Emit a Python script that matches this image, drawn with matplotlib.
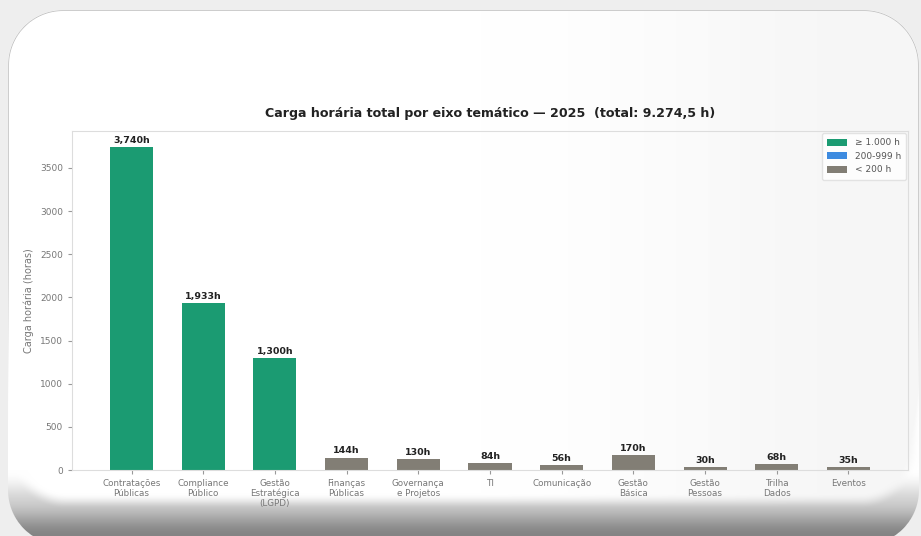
import numpy as np
import matplotlib.pyplot as plt
from matplotlib.patches import Patch

# carga horária por eixo temático (horas)
eixos = ["Contratações\nPúblicas", "Compliance\nPúblico", "Gestão\nEstratégica\n(LGPD)",
         "Finanças\nPúblicas", "Governança\ne Projetos", "TI", "Comunicação",
         "Gestão\nBásica", "Gestão\nPessoas", "Trilha\nDados", "Eventos"]
horas = [3740, 1933, 1300, 144, 130, 84, 56, 170, 30, 68, 35]
total_txt = "9.274,5 h"

faixas = ["≥ 1.000 h", "200-999 h", "< 200 h"]
cores_faixa = ["#1b9b72", "#3d8be0", "#827e75"]


def cor_por_horas(v):
    if v >= 1000:
        return cores_faixa[0]
    if v >= 200:
        return cores_faixa[1]
    return cores_faixa[2]


def sdf_caixa(px, py, x0, y0, x1, y1, r):
    # distância com sinal até um retângulo arredondado
    cx, cy = (x0 + x1) / 2, (y0 + y1) / 2
    bx, by = (x1 - x0) / 2, (y1 - y0) / 2
    qx = np.abs(px - cx) - bx + r
    qy = np.abs(py - cy) - by + r
    fora = np.hypot(np.maximum(qx, 0), np.maximum(qy, 0))
    dentro = np.minimum(np.maximum(qx, qy), 0)
    return fora + dentro - r


def suave(a, b, x):
    t = np.clip((x - a) / (b - a), 0, 1)
    return t * t * (3 - 2 * t)


W, H = 921, 536
fig = plt.figure(figsize=(W / 100, H / 100), dpi=100)

# fundo: cartão branco com base em relevo
py, px = np.mgrid[0:H, 0:W] + 0.5
fundo = np.full((H, W), 0.935)

d_base = sdf_caixa(px, py, 8, 10, 918, 545, 55)
tom_base = 1 - 0.2 * suave(470, 508, py) - 0.28 * suave(500, 536, py)
a_base = np.clip(0.5 - d_base, 0, 1)
img = fundo * (1 - a_base) + tom_base * a_base

# face do cartão: borda nítida em cima, esfumada embaixo
d_face = sdf_caixa(px, py, 8, 10, 918, 508, 58)
larg = 1 + 14 * suave(380, 480, py)
a_face = 1 - suave(-larg, 1, d_face)
a_face = a_face * a_base
tom_face = 1 - 0.035 * suave(480, 900, px)
img = img * (1 - a_face) + tom_face * a_face

borda = np.clip(1 - np.abs(d_base + 0.6) / 0.9, 0, 1) * (1 - suave(200, 420, py))
img = img * (1 - borda) + 0.78 * borda

bg = fig.add_axes([0, 0, 1, 1], zorder=0)
bg.imshow(np.dstack([img, img, img]), extent=(0, W, H, 0), aspect="auto",
          interpolation="nearest")
bg.axis("off")

# gráfico
ax = fig.add_axes([72 / W, 1 - 470 / H, (908 - 72) / W, (470 - 131) / H], zorder=1)
ax.set_facecolor("none")
x = np.arange(len(eixos))
cores = [cor_por_horas(v) for v in horas]
barras = ax.bar(x, horas, width=0.6, color=cores)

for b, v in zip(barras, horas):
    ax.text(b.get_x() + b.get_width() / 2, v + 25, f"{v:,.0f}h",
            ha="center", va="bottom", fontsize=6.8, fontweight="bold", color="#222222")

ax.set_ylim(0, max(horas) * 1.05)
ax.set_xticks(x)
ax.set_xticklabels(eixos, fontsize=6.3, color="#777777", linespacing=1.1)
ax.tick_params(axis="y", labelsize=6.5, labelcolor="#777777", color="#999999", length=3)
ax.tick_params(axis="x", color="#999999", length=3)
ax.set_ylabel("Carga horária (horas)", fontsize=7, color="#777777")
for s in ax.spines.values():
    s.set_color("#dddddd")
    s.set_linewidth(0.8)

ax.set_title(f"Carga horária total por eixo temático — 2025  (total: {total_txt})",
             fontsize=9.1, fontweight="bold", color="#222222", pad=10)

handles = [Patch(facecolor=c, label=l) for c, l in zip(cores_faixa, faixas)]
leg = ax.legend(handles=handles, loc="upper right", fontsize=6.5, frameon=True,
                handlelength=2.2, handleheight=0.8, borderpad=0.6, labelspacing=0.5,
                borderaxespad=0.2)
leg.get_frame().set_edgecolor("#dddddd")
for t in leg.get_texts():
    t.set_color("#555555")

fig.savefig("out.png", dpi=100)
